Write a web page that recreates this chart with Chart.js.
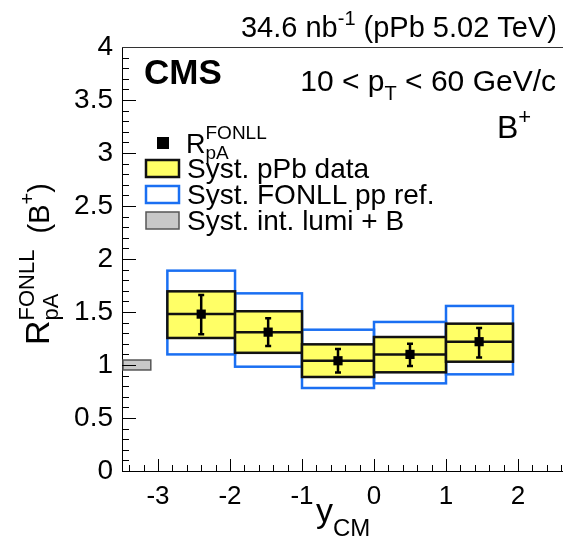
<!DOCTYPE html>
<html lang="en">
<head>
    <meta charset="UTF-8">
    <title>B+ RpA FONLL vs yCM</title>
    <script src="https://cdn.jsdelivr.net/npm/chart.js"></script>
    <style>
        body {
            margin: 0;
            padding: 0;
            background: #fff;
        }

        .container {
            width: 563px;
            height: 546px;
        }
    </style>
</head>
<body>
    <div class="container">
        <canvas id="rpaChart" width="563" height="546"></canvas>
    </div>

    <script>
        // Data
        const binLow = [-2.87, -1.93, -1, 0, 1];
        const binHigh = [-1.93, -1, 0, 1, 1.93];
        const yCenter = [-2.4, -1.47, -0.5, 0.5, 1.46];
        const rpa = [1.48, 1.31, 1.04, 1.10, 1.22];
        const statLow = [1.29, 1.18, 0.93, 0.99, 1.07];
        const statHigh = [1.66, 1.44, 1.15, 1.20, 1.35];
        const systLow = [1.255, 1.115, 0.887, 0.931, 1.031];
        const systHigh = [1.695, 1.507, 1.195, 1.264, 1.390];
        const fonllLow = [1.10, 0.984, 0.783, 0.827, 0.912];
        const fonllHigh = [1.89, 1.676, 1.333, 1.406, 1.557];
        const lumiRange = [0.953, 1.047];
        const lumiX = [-3.5, -3.1];
        const xTickLabels = [-3, -2, -1, 0, 1, 2];
        const yTickLabels = ['0', '0.5', '1', '1.5', '2', '2.5', '3', '3.5', '4'];

        const FONT = '"Liberation Sans", Arial, sans-serif';
        const ctx = document.getElementById('rpaChart').getContext('2d');

        // draw a run of text pieces (normal / sup / sub), returns end x
        function richText(c, parts, x, y, align) {
            let total = 0;
            parts.forEach(p => {
                c.font = (p.bold ? 'bold ' : '') + p.size + 'px ' + FONT;
                p.w = c.measureText(p.t).width;
                if (!p.stack) total += p.w;
            });
            let cx = align === 'right' ? x - total : (align === 'center' ? x - total / 2 : x);
            let lastX = cx;
            parts.forEach(p => {
                c.font = (p.bold ? 'bold ' : '') + p.size + 'px ' + FONT;
                const px = p.stack ? lastX : cx;
                c.fillText(p.t, px, y + (p.dy || 0));
                if (!p.stack) { lastX = cx; cx += p.w; }
            });
            return cx;
        }

        const hepPlugin = {
            id: 'hep',
            beforeDatasetsDraw(chart) {
                const c = chart.ctx;
                const xs = chart.scales.x, ys = chart.scales.y;
                const area = chart.chartArea;
                const px = v => xs.getPixelForValue(v);
                const py = v => ys.getPixelForValue(v);
                c.save();

                // FONLL pp ref boxes
                c.strokeStyle = '#1a6ff2';
                c.lineWidth = 2.5;
                binLow.forEach((lo, i) => {
                    c.strokeRect(px(lo), py(fonllHigh[i]), px(binHigh[i]) - px(lo), py(fonllLow[i]) - py(fonllHigh[i]));
                });

                // pPb syst boxes
                c.fillStyle = '#ffff66';
                c.strokeStyle = '#111';
                c.lineWidth = 2.5;
                binLow.forEach((lo, i) => {
                    const x0 = px(lo), w = px(binHigh[i]) - x0;
                    const y0 = py(systHigh[i]), h = py(systLow[i]) - y0;
                    c.fillRect(x0, y0, w, h);
                    c.strokeRect(x0, y0, w, h);
                    c.beginPath();
                    c.moveTo(x0, py(rpa[i]));
                    c.lineTo(x0 + w, py(rpa[i]));
                    c.stroke();
                });

                // lumi box
                c.fillStyle = '#c8c8c8';
                c.strokeStyle = '#555';
                c.lineWidth = 1.5;
                const lx = px(lumiX[0]) + 1, lw = px(lumiX[1]) - lx;
                c.fillRect(lx, py(lumiRange[1]), lw, py(lumiRange[0]) - py(lumiRange[1]));
                c.strokeRect(lx, py(lumiRange[1]), lw, py(lumiRange[0]) - py(lumiRange[1]));

                // stat error bars
                c.strokeStyle = '#000';
                c.lineWidth = 2.5;
                yCenter.forEach((xv, i) => {
                    const x = px(xv);
                    c.beginPath();
                    c.moveTo(x, py(statLow[i]));
                    c.lineTo(x, py(statHigh[i]));
                    c.moveTo(x - 3, py(statLow[i]));
                    c.lineTo(x + 3, py(statLow[i]));
                    c.moveTo(x - 3, py(statHigh[i]));
                    c.lineTo(x + 3, py(statHigh[i]));
                    c.stroke();
                });

                // inner tick marks
                c.strokeStyle = '#000';
                c.lineWidth = 1;
                for (let k = 0; k <= 40; k++) {
                    const v = k / 10;
                    const y = Math.round(py(v)) + 0.5;
                    const len = k % 5 === 0 ? 14 : 7;
                    c.beginPath();
                    c.moveTo(area.left, y);
                    c.lineTo(area.left + len, y);
                    c.stroke();
                }
                for (let k = -17; k <= 13; k++) {
                    const v = k / 5;
                    const x = Math.round(px(v)) + 0.5;
                    if (x < area.left || x > area.right) continue;
                    const len = k % 5 === 0 ? 12 : 6;
                    c.beginPath();
                    c.moveTo(x, area.bottom);
                    c.lineTo(x, area.bottom - len);
                    c.stroke();
                }
                // top frame line
                c.strokeStyle = '#333';
                c.beginPath();
                c.moveTo(area.left, area.top + 0.5);
                c.lineTo(area.right, area.top + 0.5);
                c.stroke();
                c.restore();
            },
            afterDraw(chart) {
                const c = chart.ctx;
                c.save();
                c.fillStyle = '#000';
                c.textBaseline = 'alphabetic';

                richText(c, [
                    { t: '34.6 nb', size: 29 },
                    { t: '-1', size: 20, dy: -12 },
                    { t: ' (pPb 5.02 TeV)', size: 29 }
                ], 557, 37, 'right');

                richText(c, [{ t: 'CMS', size: 35, bold: true }], 144, 84, 'left');

                richText(c, [
                    { t: '10 < p', size: 30 },
                    { t: 'T', size: 20, dy: 9 },
                    { t: ' < 60 GeV/c', size: 30 }
                ], 556, 91, 'right');

                richText(c, [
                    { t: 'B', size: 32 },
                    { t: '+', size: 22, dy: -14 }
                ], 497, 138, 'left');

                // legend
                c.fillStyle = '#000';
                c.fillRect(157, 137, 12, 12);
                richText(c, [
                    { t: 'R', size: 27 },
                    { t: 'FONLL', size: 19, dy: -14 },
                    { t: 'pA', size: 19, dy: 6, stack: true }
                ], 186, 153, 'left');

                c.lineWidth = 2.5;
                c.fillStyle = '#ffff66';
                c.strokeStyle = '#111';
                c.fillRect(146, 160, 33, 17);
                c.strokeRect(146, 160, 33, 17);
                c.strokeStyle = '#1a6ff2';
                c.strokeRect(146, 186, 33, 17);
                c.lineWidth = 1.5;
                c.fillStyle = '#c8c8c8';
                c.strokeStyle = '#555';
                c.fillRect(146, 212, 33, 17);
                c.strokeRect(146, 212, 33, 17);

                c.fillStyle = '#000';
                richText(c, [{ t: 'Syst. pPb data', size: 28 }], 187, 178, 'left');
                richText(c, [{ t: 'Syst. FONLL pp ref.', size: 28 }], 187, 204, 'left');
                richText(c, [{ t: 'Syst. int. lumi + B', size: 28 }], 187, 230, 'left');

                // x axis title
                richText(c, [
                    { t: 'y', size: 34 },
                    { t: 'CM', size: 24, dy: 14 }
                ], 316, 522, 'left');

                // y axis title (rotated)
                c.translate(49, 345);
                c.rotate(-Math.PI / 2);
                richText(c, [
                    { t: 'R', size: 34 },
                    { t: 'FONLL', size: 22, dy: -15 },
                    { t: 'pA', size: 22, dy: 9, stack: true },
                    { t: '  (B', size: 29 },
                    { t: '+', size: 20, dy: -15 },
                    { t: ')', size: 29 }
                ], 0, 0, 'left');
                c.restore();
            }
        };

        const rpaChart = new Chart(ctx, {
            type: 'scatter',
            data: {
                datasets: [{
                    label: 'RpA FONLL',
                    data: yCenter.map((xv, i) => ({ x: xv, y: rpa[i] })),
                    pointStyle: 'rect',
                    pointRadius: 6.5,
                    pointHoverRadius: 6.5,
                    backgroundColor: '#000',
                    borderColor: '#000',
                    borderWidth: 0
                }]
            },
            options: {
                responsive: false,
                animation: false,
                events: [],
                layout: { autoPadding: false, padding: { top: 47, right: 0, left: 0, bottom: 0 } },
                plugins: {
                    legend: { display: false },
                    tooltip: { enabled: false }
                },
                scales: {
                    x: {
                        type: 'linear',
                        min: -3.5,
                        max: 2.625,
                        afterFit: s => { s.height = 75; s.paddingLeft = 0; s.paddingRight = 0; },
                        grid: { display: false, drawTicks: true, tickLength: 10 },
                        border: { display: true, color: '#000', width: 1 },
                        ticks: {
                            stepSize: 1,
                            includeBounds: false,
                            padding: 0,
                            color: '#000',
                            font: { family: FONT, size: 26 },
                            maxRotation: 0,
                            autoSkip: false,
                            callback: v => {
                                const t = xTickLabels.find(n => Math.abs(n - v) < 1e-6);
                                return t === undefined ? '' : String(t);
                            }
                        }
                    },
                    y: {
                        min: 0,
                        max: 4,
                        afterFit: s => { s.width = 122; s.paddingTop = 0; s.paddingBottom = 0; },
                        grid: { display: false, drawTicks: false },
                        border: { display: true, color: '#000', width: 1 },
                        ticks: {
                            stepSize: 0.5,
                            padding: 9,
                            color: '#000',
                            font: { family: FONT, size: 28 },
                            autoSkip: false,
                            callback: (v, i) => yTickLabels[i]
                        }
                    }
                }
            },
            plugins: [hepPlugin]
        });
    </script>
</body>
</html>
